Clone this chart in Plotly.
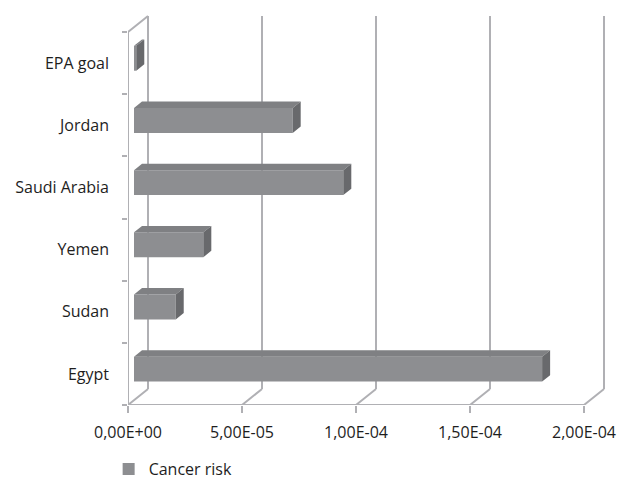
import plotly.graph_objects as go

# Cancer risk by country (bottom to top), with the EPA goal for reference
categories = ["Egypt", "Sudan", "Yemen", "Saudi Arabia", "Jordan", "EPA goal"]
cancer_risk = [1.79e-4, 1.83e-5, 3.04e-5, 9.18e-5, 6.96e-5, 1.0e-6]
x_tick_values = [0, 5e-5, 1e-4, 1.5e-4, 2e-4]
x_tick_labels = ["0,00E+00", "5,00E-05", "1,00E-04", "1,50E-04", "2,00E-04"]
series_name = "Cancer risk"

# ---- layout geometry (pixels) ----
W, H = 622, 486
M_L, M_R, M_T, M_B = 128, 10, 10, 81
X_MAX = x_tick_values[-1]
FRONT_W = 456                       # width of the front floor edge
BAND_H = 373 / len(categories)      # height of one category band
DEPTH_PX = (20, 16)                 # oblique depth of the 3-D box
BAR_T = 0.4                         # bar thickness (band fraction)
BAR_D = (0.3, 0.7)                  # bar depth span (fraction of box depth)

px_per_x = FRONT_W / X_MAX
x_range = [0, (W - M_L - M_R) / px_per_x]
y_lo = -0.5
y_range = [y_lo, y_lo + (H - M_T - M_B) / BAND_H]
y_hi = y_lo + len(categories)


def proj(v, c, d):
    """Oblique projection of (value, category, depth) onto the 2-D axes."""
    return v + d * DEPTH_PX[0] / px_per_x, c + d * DEPTH_PX[1] / BAND_H


GRID = "#b0b0b4"
shapes = []


def seg(p, q, color=GRID, width=2):
    shapes.append(dict(type="line", xref="x", yref="y", x0=p[0], y0=p[1],
                       x1=q[0], y1=q[1], layer="below",
                       line=dict(color=color, width=width)))


# back-wall gridlines and the floor diagonals
for v in x_tick_values:
    seg(proj(v, y_lo, 1), proj(v, y_hi, 1))
    seg(proj(v, y_lo, 0), proj(v, y_lo, 1))
# left wall: front edge and top edge
seg(proj(0, y_lo, 0), proj(0, y_hi, 0))
seg(proj(0, y_hi, 0), proj(0, y_hi, 1))
# front floor edge
seg(proj(0, y_lo, 0), proj(X_MAX, y_lo, 0))

# ---- bars ----
d0, d1 = BAR_D
half = BAR_T / 2
front_base = proj(0, 0, d0)[0]
front_y = [c + proj(0, 0, d0)[1] for c in range(len(categories))]

top_x, top_y, side_x, side_y = [], [], [], []
for c, v in enumerate(cancer_risk):
    pts = [proj(0, c + half, d0), proj(v, c + half, d0),
           proj(v, c + half, d1), proj(0, c + half, d1)]
    top_x += [p[0] for p in pts] + [pts[0][0], None]
    top_y += [p[1] for p in pts] + [pts[0][1], None]
    pts = [proj(v, c - half, d0), proj(v, c + half, d0),
           proj(v, c + half, d1), proj(v, c - half, d1)]
    side_x += [p[0] for p in pts] + [pts[0][0], None]
    side_y += [p[1] for p in pts] + [pts[0][1], None]

fig = go.Figure()
fig.add_trace(go.Scatter(x=top_x, y=top_y, fill="toself", mode="lines",
                         line=dict(width=0), fillcolor="#7f8083",
                         showlegend=False, hoverinfo="skip"))
fig.add_trace(go.Scatter(x=side_x, y=side_y, fill="toself", mode="lines",
                         line=dict(width=0), fillcolor="#68696c",
                         showlegend=False, hoverinfo="skip"))
fig.add_trace(go.Bar(
    x=cancer_risk, y=front_y, base=front_base, orientation="h",
    width=BAR_T, name=series_name,
    marker=dict(color="#8d8e91", line=dict(width=0)),
))
# category tick marks along the front left edge
fig.add_trace(go.Scatter(x=[None], y=[None], yaxis="y2", showlegend=False))

FONT = "Open Sans"
TXT = "#1e1e1e"
fig.update_layout(
    width=W, height=H,
    margin=dict(l=M_L, r=M_R, t=M_T, b=M_B, autoexpand=False),
    paper_bgcolor="white", plot_bgcolor="white",
    font=dict(family=FONT, size=16, color=TXT),
    shapes=shapes,
    showlegend=True,
    legend=dict(orientation="h", x=-0.04, y=0, yref="container",
                xanchor="left", yanchor="bottom",
                font=dict(size=16, color=TXT), itemwidth=30),
    xaxis=dict(range=x_range, tickvals=x_tick_values, ticktext=x_tick_labels,
               ticks="outside", ticklen=7, tickwidth=2, tickcolor=GRID,
               showgrid=False, zeroline=False, showline=False,
               ticklabelstandoff=6, fixedrange=True, automargin=False),
    yaxis=dict(range=y_range, tickvals=list(range(len(categories))),
               ticktext=categories, ticks="", showgrid=False,
               zeroline=False, showline=False, ticklabelstandoff=18,
               fixedrange=True, automargin=False),
    yaxis2=dict(range=y_range, overlaying="y", side="left",
                tickvals=[y_lo + i for i in range(len(categories) + 1)],
                ticks="outside", ticklen=5, tickwidth=2, tickcolor=GRID,
                showticklabels=False, showgrid=False, zeroline=False,
                showline=False, fixedrange=True, automargin=False),
)

fig.write_html("out.html")
